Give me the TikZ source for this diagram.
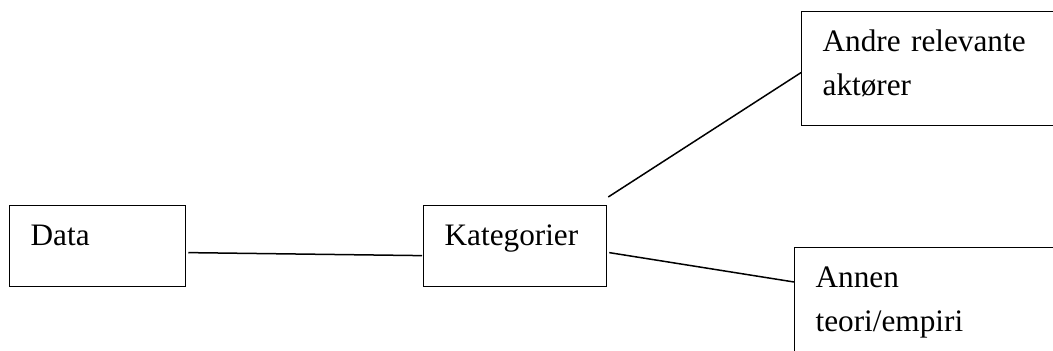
\documentclass[tikz,border=0pt]{standalone}
\usepackage{fontspec}
\setmainfont{Liberation Serif}
\usetikzlibrary{positioning}

\begin{document}
\begin{tikzpicture} [
  x=0.4pt, y=-0.4pt,
  every node/.style={draw,line width=0.5pt,anchor=north west,inner xsep=8.4pt,inner ysep=0pt,
    align=left,text height=16pt,font=\fontsize{12.5}{17.6}\selectfont},
  low box/.style={text depth=16.4pt},
  tall box/.style={text width=88pt},
  link/.style={line width=0.6pt}
  ]
  \clip (0,0) rectangle (1053,351);
  \node (data) [low box,text width=53.6pt] at (9,205) {Data};
  \node (kat) [low box,text width=56.4pt] at (423,205) {Kategorier};
  \node (andre) [tall box,text depth=29.6pt] at (801,11) {Andre relevante\\aktører};
  \node (annen) [tall box,text depth=36pt] at (794,247) {Annen\\teori/empiri};

  \draw [link] ([shift={(2,6.5)}]data.east) -- ([shift={(-1,9.5)}]kat.west);
  \draw [link] ([shift={(1,-8)}]kat.north east) -- ([shift={(0,4)}]andre.west);
  \draw [link] ([shift={(2,6.5)}]kat.east) -- ([shift={(0,35)}]annen.north west);
\end{tikzpicture}
\end{document}
